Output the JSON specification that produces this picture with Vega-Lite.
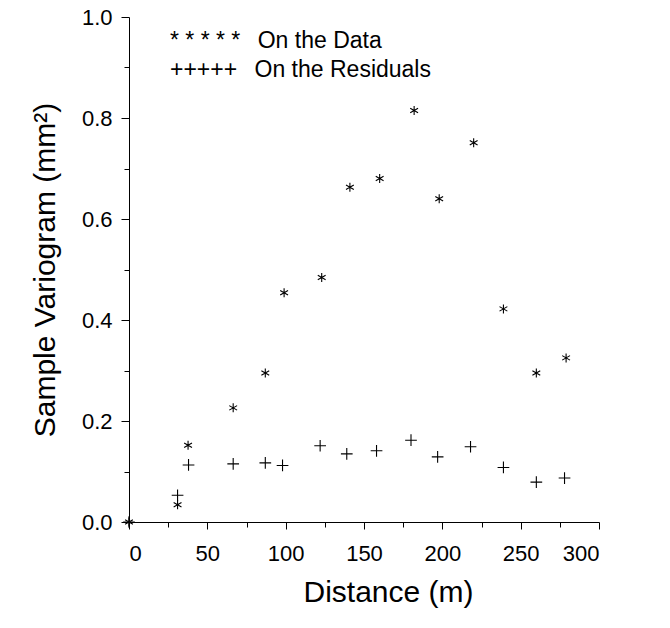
{
  "$schema": "https://vega.github.io/schema/vega-lite/v6.json",
  "width": 470,
  "height": 505,
  "autosize": {"type": "none"},
  "padding": {"left": 129, "top": 17, "right": 71, "bottom": 106},
  "background": "white",
  "config": {
    "view": {"stroke": null},
    "font": "Liberation Sans",
    "axis": {
      "domainColor": "black",
      "tickColor": "black",
      "labelColor": "black",
      "titleColor": "black",
      "grid": false,
      "labelFont": "Liberation Sans",
      "titleFont": "Liberation Sans",
      "labelFontSize": 22,
      "titleFontSize": 30,
      "titleFontWeight": "normal",
      "domainWidth": 1,
      "tickWidth": 1
    }
  },
  "data": {
    "values": [
      {"d": 0, "g": 0, "series": "On the Data"},
      {"d": 31, "g": 0.034, "series": "On the Data"},
      {"d": 37.7, "g": 0.152, "series": "On the Data"},
      {"d": 66.5, "g": 0.226, "series": "On the Data"},
      {"d": 87, "g": 0.295, "series": "On the Data"},
      {"d": 99, "g": 0.454, "series": "On the Data"},
      {"d": 123, "g": 0.484, "series": "On the Data"},
      {"d": 141, "g": 0.663, "series": "On the Data"},
      {"d": 160, "g": 0.68, "series": "On the Data"},
      {"d": 182, "g": 0.815, "series": "On the Data"},
      {"d": 198, "g": 0.64, "series": "On the Data"},
      {"d": 220, "g": 0.751, "series": "On the Data"},
      {"d": 239, "g": 0.422, "series": "On the Data"},
      {"d": 260, "g": 0.295, "series": "On the Data"},
      {"d": 279, "g": 0.325, "series": "On the Data"},
      {"d": 0, "g": 0, "series": "On the Residuals"},
      {"d": 31, "g": 0.053, "series": "On the Residuals"},
      {"d": 38, "g": 0.113, "series": "On the Residuals"},
      {"d": 66.5, "g": 0.115, "series": "On the Residuals"},
      {"d": 87, "g": 0.117, "series": "On the Residuals"},
      {"d": 98, "g": 0.112, "series": "On the Residuals"},
      {"d": 122, "g": 0.151, "series": "On the Residuals"},
      {"d": 139, "g": 0.135, "series": "On the Residuals"},
      {"d": 158, "g": 0.141, "series": "On the Residuals"},
      {"d": 180, "g": 0.162, "series": "On the Residuals"},
      {"d": 197, "g": 0.129, "series": "On the Residuals"},
      {"d": 218, "g": 0.149, "series": "On the Residuals"},
      {"d": 239, "g": 0.108, "series": "On the Residuals"},
      {"d": 260, "g": 0.079, "series": "On the Residuals"},
      {"d": 278, "g": 0.087, "series": "On the Residuals"}
    ]
  },
  "mark": {"type": "point", "filled": false, "color": "black", "strokeWidth": 1.1, "opacity": 1, "size": 81},
  "encoding": {
    "x": {
      "field": "d",
      "type": "quantitative",
      "scale": {"domain": [0, 300], "nice": false, "zero": true},
      "axis": {
        "title": "Distance (m)",
        "values": [0, 25, 50, 75, 100, 125, 150, 175, 200, 225, 250, 275, 300],
        "labelExpr": "datum.value % 50 === 0 ? format(datum.value, 'd') : ''",
        "tickSize": {"condition": {"test": "datum.value % 50 === 0", "value": 7}, "value": 5},
        "labelPadding": 14,
        "titlePadding": 13,
        "titleX": 259,
        "titleAlign": "center"
      }
    },
    "y": {
      "field": "g",
      "type": "quantitative",
      "scale": {"domain": [0, 1], "nice": false},
      "axis": {
        "title": "Sample Variogram (mm²)",
        "values": [0, 0.1, 0.2, 0.3, 0.4, 0.5, 0.6, 0.7, 0.8, 0.9, 1.0],
        "labelExpr": "round(datum.value * 10) % 2 === 0 ? format(datum.value, '.1f') : ''",
        "tickSize": {"condition": {"test": "round(datum.value * 10) % 2 === 0", "value": 8}, "value": 5},
        "labelPadding": 9,
        "titlePadding": 21
      }
    },
    "shape": {
      "field": "series",
      "type": "nominal",
      "scale": {
        "domain": ["On the Data", "On the Residuals"],
        "range": [
          "M0,-1L0,1M-0.87,-0.5L0.87,0.5M-0.87,0.5L0.87,-0.5",
          "M-1.3,0L1.3,0M0,-1.3L0,1.3"
        ]
      },
      "legend": {
        "title": null,
        "orient": "none",
        "legendX": 14,
        "legendY": 12,
        "symbolSize": 0,
        "symbolOpacity": 0,
        "symbolStrokeWidth": 0,
        "labelFont": "Liberation Sans",
        "labelFontSize": 23,
        "labelLimit": 500,
        "labelColor": "black",
        "rowPadding": 5,
        "labelExpr": "datum.label === 'On the Data' ? '* * * * *\u00a0\u00a0\u2009On the Data' : '+++++\u00a0\u00a0\u2009On the Residuals'"
      }
    }
  }
}
